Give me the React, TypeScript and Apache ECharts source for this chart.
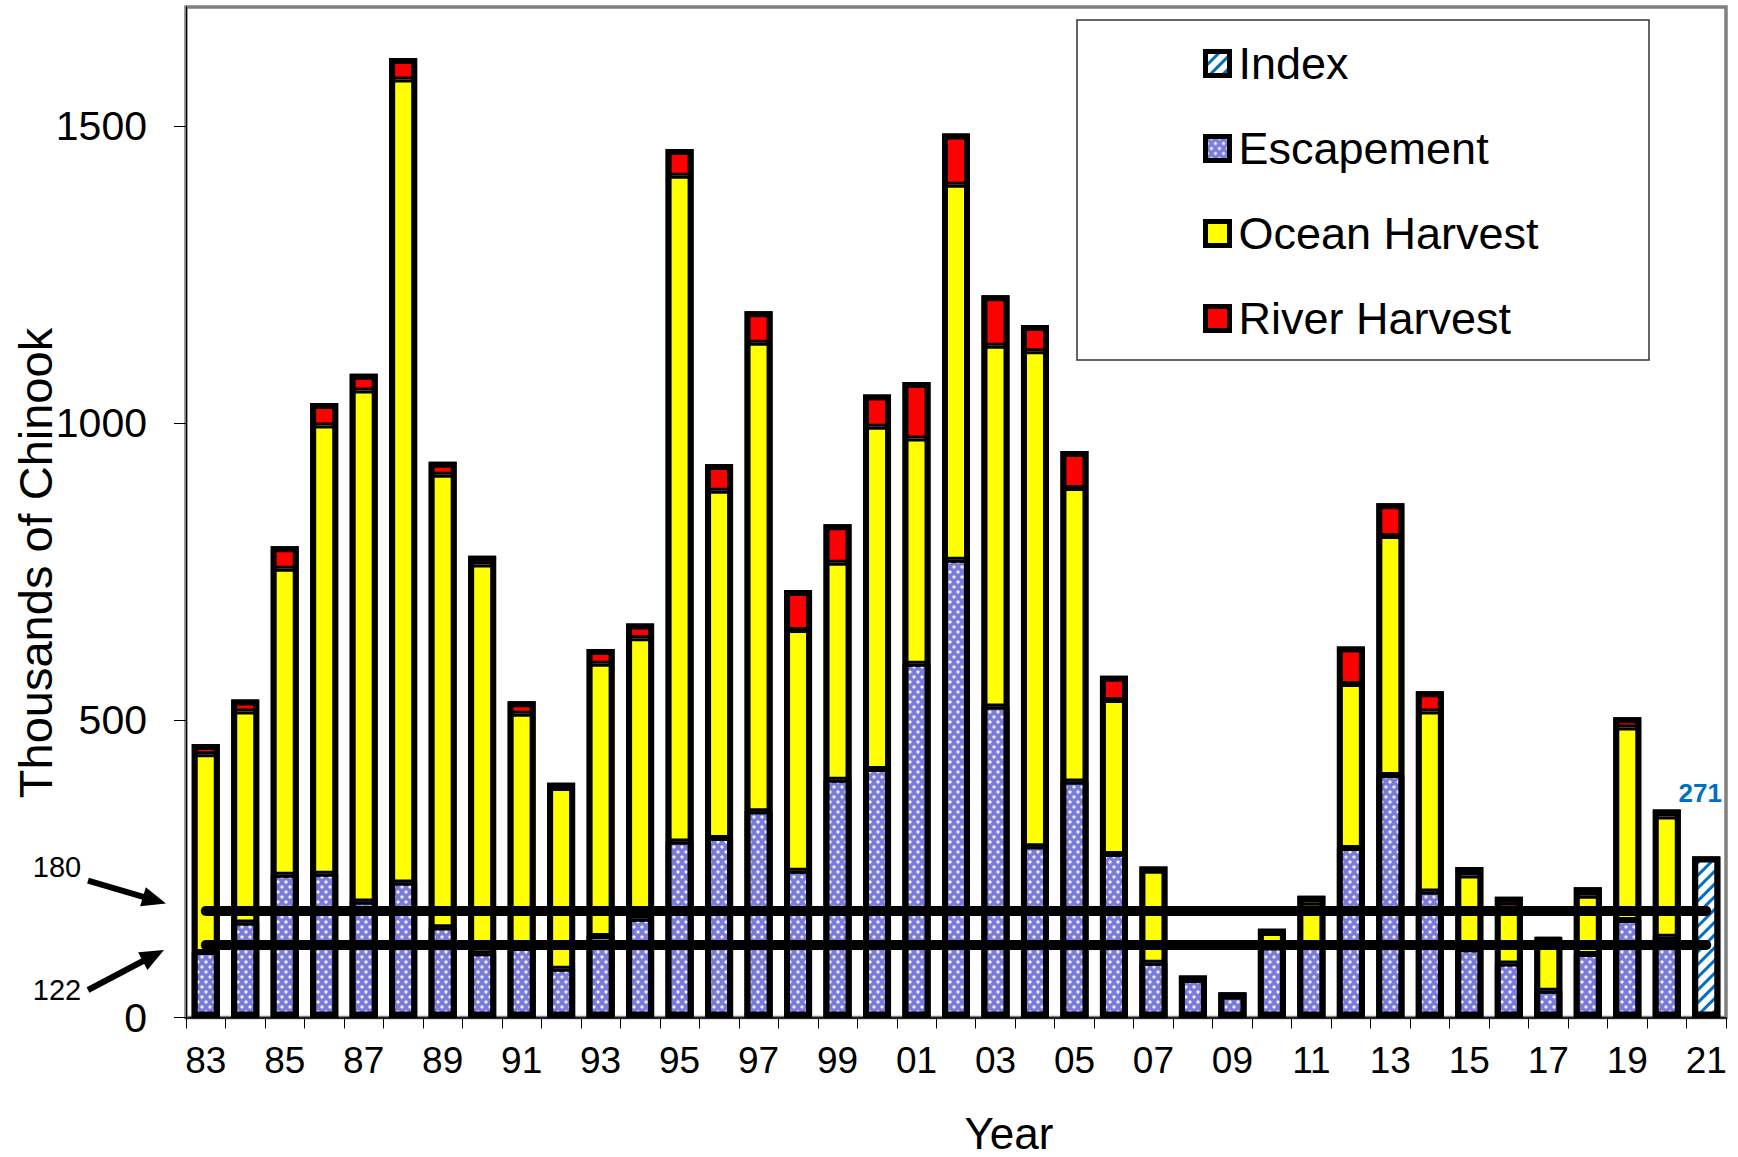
import React, { useEffect, useRef } from 'react';
import * as echarts from 'echarts';

const years = ['83','84','85','86','87','88','89','90','91','92','93','94','95','96','97','98','99','00','01','02','03','04','05','06','07','08','09','10','11','12','13','14','15','16','17','18','19','20','21'];

const escapement = [110,160,240,242,195,227,152,108,117,82,137,166,296,302,347,247,400,418,595,770,523,288,397,275,92,68,40,118,120,285,408,212,115,91,45,107,164,136,null];
const oceanHarvest = [333,355,515,754,860,1351,761,654,394,304,458,472,1120,584,788,405,365,576,379,631,607,833,494,259,155,0,0,29,73,276,402,303,124,97,86,98,324,202,null];
const riverHarvest = [17,20,38,38,28,36,22,15,21,9,25,25,45,45,53,67,65,54,95,86,85,44,62,41,7,0,0,0,12,63,55,34,14,15,5,14,17,12,null];
const indexValues = [null,null,null,null,null,null,null,null,null,null,null,null,null,null,null,null,null,null,null,null,null,null,null,null,null,null,null,null,null,null,null,null,null,null,null,null,null,null,271];

const yTicks = [0, 500, 1000, 1500];
const thresholds = [180, 122];

const FONT = "'Liberation Sans', Arial, sans-serif";

function arrowEls(id: string, sx: number, sy: number, tx: number, ty: number) {
  const dx = tx - sx, dy = ty - sy;
  const L = Math.hypot(dx, dy);
  const ux = dx / L, uy = dy / L;
  const hl = 24, hw = 10;
  const bx = tx - ux * hl, by = ty - uy * hl;
  const nx = -uy, ny = ux;
  return [
    { type: 'line', id: id + 's', shape: { x1: sx, y1: sy, x2: bx + ux * 3, y2: by + uy * 3 }, style: { stroke: '#000', lineWidth: 6 }, z: 10 },
    { type: 'polygon', id: id + 'h', shape: { points: [[tx, ty], [bx + nx * hw, by + ny * hw], [bx - nx * hw, by - ny * hw]] }, style: { fill: '#000' }, z: 10 },
  ];
}

export default function App() {
  const ref = useRef<HTMLDivElement>(null);
  useEffect(() => {
    const chart = echarts.init(ref.current!, null, { renderer: 'svg' });
    const totals = years.map((_, i) =>
      (escapement[i] ?? 0) + (oceanHarvest[i] ?? 0) + (riverHarvest[i] ?? 0) + (indexValues[i] ?? 0));
    const barCommon = {
      type: 'bar',
      stack: 'total',
      barWidth: 28,
      barGap: '-100%',
    };
    chart.setOption({
      animation: false,
      backgroundColor: '#fff',
      grid: {
        left: 186, right: 12, top: 7, bottom: 139.5,
        show: true, borderColor: '#808080', borderWidth: 3.5,
        containLabel: false, outerBoundsMode: 'none',
      },
      legend: {
        data: ['Index', 'Escapement', 'Ocean Harvest', 'River Harvest'],
        orient: 'vertical',
        left: 1198, top: 36,
        itemWidth: 24, itemHeight: 24, itemGap: 40,
        icon: 'rect',
        selectedMode: false,
        itemStyle: { borderColor: '#000', borderWidth: 5 },
        textStyle: { fontSize: 45, color: '#000', fontFamily: FONT, padding: [0, 0, 0, 4] },
      },
      xAxis: {
        type: 'category',
        data: years,
        axisLine: { show: true, lineStyle: { color: '#000', width: 1.5 } },
        axisTick: { show: true, interval: 0, length: 11, lineStyle: { color: '#000' } },
        axisLabel: { interval: 1, fontSize: 37, color: '#000', margin: 24, fontFamily: FONT },
        splitLine: { show: false },
      },
      yAxis: {
        type: 'value',
        min: 0, max: 1700, interval: 500,
        axisLine: { show: true, lineStyle: { color: '#000', width: 1 } },
        axisTick: { show: true, length: 12, lineStyle: { color: '#000' }, customValues: yTicks },
        axisLabel: { fontSize: 41, color: '#000', margin: 39, fontFamily: FONT, customValues: yTicks, formatter: (v: number) => String(v) },
        splitLine: { show: false },
      },
      series: [
        {
          ...barCommon,
          name: 'Index',
          data: indexValues,
          itemStyle: {
            color: '#ffffff', borderColor: '#000', borderWidth: 3,
            decal: { symbol: 'rect', symbolSize: 1, color: '#0070C0', dashArrayX: [1, 0], dashArrayY: [3, 6], rotation: -Math.PI / 4 },
          },
          label: {
            show: true, position: 'top', distance: 5, offset: [-6, -45],
            color: '#0070C0', fontWeight: 'bold', fontSize: 26, fontFamily: FONT,
          },
        },
        {
          ...barCommon,
          name: 'Escapement',
          data: escapement,
          itemStyle: {
            color: '#7B7BDA', borderColor: '#000', borderWidth: 3,
            decal: { symbol: 'circle', symbolSize: 0.8, color: 'rgba(255,255,255,0.9)', dashArrayX: [[4, 4], [0, 4, 4, 0]], dashArrayY: [4, 1] },
          },
        },
        {
          ...barCommon,
          name: 'Ocean Harvest',
          data: oceanHarvest,
          itemStyle: { color: '#FFFF00', borderColor: '#000', borderWidth: 3 },
        },
        {
          ...barCommon,
          name: 'River Harvest',
          data: riverHarvest,
          itemStyle: { color: '#FF0000', borderColor: '#000', borderWidth: 3 },
        },
        {
          type: 'bar',
          name: 'outline',
          data: totals,
          barWidth: 28,
          barGap: '-100%',
          silent: true,
          z: 3,
          itemStyle: { color: 'rgba(0,0,0,0)', borderColor: '#000', borderWidth: 6 },
          markLine: {
            silent: true,
            symbol: ['none', 'none'],
            label: { show: false },
            lineStyle: { color: '#000', width: 10, type: 'solid', cap: 'round' },
            data: thresholds.map((t) => [
              { coord: [years[0], t] },
              { coord: [years[years.length - 1], t] },
            ]),
          },
        },
      ],
    });

    const y180 = chart.convertToPixel({ yAxisIndex: 0 }, thresholds[0]) as number;
    const y122 = chart.convertToPixel({ yAxisIndex: 0 }, thresholds[1]) as number;

    chart.setOption({
      graphic: [
        {
          type: 'rect', id: 'legendBox', z: 0,
          shape: { x: 1077, y: 20, width: 572, height: 340 },
          style: { fill: '#fff', stroke: '#333', lineWidth: 1.5 },
        },
        {
          type: 'text', id: 'ytitle', x: 35, y: 563, rotation: Math.PI / 2,
          style: { text: 'Thousands of Chinook', align: 'center', verticalAlign: 'middle', fontSize: 47, fontFamily: FONT, fill: '#000' },
        },
        {
          type: 'text', id: 'xtitle', x: 1009, y: 1133,
          style: { text: 'Year', align: 'center', verticalAlign: 'middle', fontSize: 44, fontFamily: FONT, fill: '#000' },
        },
        {
          type: 'text', id: 't180', x: 57, y: y180 - 44,
          style: { text: '180', align: 'center', verticalAlign: 'middle', fontSize: 29, fontFamily: FONT, fill: '#000' },
        },
        {
          type: 'text', id: 't122', x: 57, y: y122 + 45,
          style: { text: '122', align: 'center', verticalAlign: 'middle', fontSize: 29, fontFamily: FONT, fill: '#000' },
        },
        ...arrowEls('a180', 88, y180 - 30, 166, y180 - 7),
        ...arrowEls('a122', 88, y122 + 45, 164, y122 + 5),
      ],
    });

    return () => chart.dispose();
  }, []);
  return <div ref={ref} style={{ position: 'fixed', left: 0, top: 0, width: 1738, height: 1157, background: '#fff' }} />;
}
